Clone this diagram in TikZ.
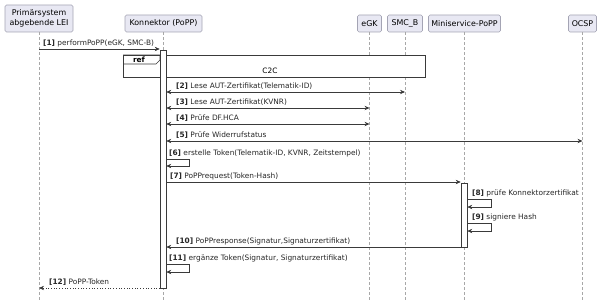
\documentclass[tikz,border=0pt]{standalone}
\usepackage{fontspec}
\setmainfont{DejaVu Sans}
\usetikzlibrary{arrows.meta,calc}

\definecolor{headfill}{HTML}{E8E8F3}
\definecolor{headline}{HTML}{A4A4B4}
\definecolor{msgline}{HTML}{3A3A3A}
\definecolor{lifecol}{HTML}{A8A8A8}

\begin{document}
\begin{tikzpicture}[
    x=1pt,y=-1pt,
    font=\fontsize{7.4}{8.5}\selectfont,
    >={Stealth[length=5pt,width=4.4pt]},
    head/.style={
        draw=headline,
        fill=headfill,
        line width=0.6pt,
        rounded corners=1.5pt,
        align=center,
        inner sep=1pt,
        minimum height=17pt,
        font=\fontsize{7.9}{9.6}\selectfont
    },
    life/.style={draw=lifecol, line width=0.5pt, dash pattern=on 2.5pt off 2.5pt},
    act/.style={
        draw=msgline,
        fill=white,
        line width=0.6pt,
        minimum width=6pt,
        inner sep=0pt,
        anchor=north
    },
    msg/.style={->, draw=msgline, line width=0.7pt},
    both/.style={<->, draw=msgline, line width=0.7pt},
    reply/.style={->, draw=msgline, line width=0.7pt, dotted},
    lbl/.style={anchor=base west, inner sep=0pt, text=black!85}
]
\useasboundingbox (0,0) rectangle (605,305);

% -----------------------------------------------------------------------------
% Participants and lifelines
% -----------------------------------------------------------------------------
\node[head, minimum width=68pt, minimum height=27pt] (lei) at (39,18.5)
    {Primärsystem\\abgebende LEI};
\node[head, minimum width=77pt] (kon) at (163.5,23.5) {Konnektor (PoPP)};
\node[head, minimum width=24pt] (egk) at (369.5,23.5) {eGK};
\node[head, minimum width=35pt] (smcb) at (405,23.5) {SMC\_B};
\node[head, minimum width=72pt] (mini) at (464.5,23.5) {Miniservice-PoPP};
\node[head, minimum width=28pt] (ocsp) at (582.5,23.5) {OCSP};

\coordinate (bot) at (0,300);
\foreach \p in {lei,kon,egk,smcb,mini,ocsp}
    \draw[life] (\p.south) -- (\p.south |- bot);

% message rows
\coordinate (r1) at (0,49);
\coordinate (r2) at (0,92);
\coordinate (r3) at (0,108);
\coordinate (r4) at (0,124);
\coordinate (r5) at (0,141);
\coordinate (r6) at (0,159);
\coordinate (r7) at (0,182);
\coordinate (r8) at (0,199);
\coordinate (r9) at (0,223);
\coordinate (r10) at (0,247);
\coordinate (r11) at (0,264);
\coordinate (r12) at (0,288);

% -----------------------------------------------------------------------------
% Reference frame C2C
% -----------------------------------------------------------------------------
\node[draw=msgline, fill=white, line width=0.7pt, minimum width=302pt,
    minimum height=22pt, anchor=north west, inner sep=0pt] (ref) at (123,55) {};
\draw[draw=msgline, line width=0.7pt] (ref.north west) -- ++(37,0) -- ++(0,5)
    -- ++(-4,4) -- ++(-33,0);
\node[font=\fontsize{7.4}{8.5}\selectfont\bfseries] (reftag) at (139,59.5) {ref};
\node (c2c) at (270,71) {C2C};

% -----------------------------------------------------------------------------
% Activations
% -----------------------------------------------------------------------------
\node[act, minimum height=238pt] (actK) at (163,50) {};
\node[act, minimum height=64pt] (actM) at (464,183) {};

% -----------------------------------------------------------------------------
% Messages
% -----------------------------------------------------------------------------
\draw[msg] (lei |- r1) -- (actK.west |- r1);
\node[lbl] at (43,45.5) {\textbf{[1]} performPoPP(eGK, SMC-B)};

\draw[both] (actK.east |- r2) -- (smcb |- r2);
\node[lbl] at (176,88.5) {\textbf{[2]} Lese AUT-Zertifikat(Telematik-ID)};

\draw[both] (actK.east |- r3) -- (egk |- r3);
\node[lbl] at (176,104.5) {\textbf{[3]} Lese AUT-Zertifikat(KVNR)};

\draw[both] (actK.east |- r4) -- (egk |- r4);
\node[lbl] at (176,120.5) {\textbf{[4]} Prüfe DF.HCA};

\draw[both] (actK.east |- r5) -- (ocsp |- r5);
\node[lbl] at (176,137.5) {\textbf{[5]} Prüfe Widerrufstatus};

\draw[msg] (actK.east |- r6) -- ++(23,0) -- ++(0,7) -- ++(-23,0);
\node[lbl] at (169,155.5)
    {\textbf{[6]} erstelle Token(Telematik-ID, KVNR, Zeitstempel)};

\draw[msg] (actK.east |- r7) -- (actM.west |- r7);
\node[lbl] at (170,178.5) {\textbf{[7]} PoPPrequest(Token-Hash)};

\draw[msg] (actM.east |- r8) -- ++(24,0) -- ++(0,8) -- ++(-24,0);
\node[lbl] at (472,195.5) {\textbf{[8]} prüfe Konnektorzertifikat};

\draw[msg] (actM.east |- r9) -- ++(24,0) -- ++(0,8) -- ++(-24,0);
\node[lbl] at (472,219.5) {\textbf{[9]} signiere Hash};

\draw[msg] (actM.west |- r10) -- (actK.east |- r10);
\node[lbl] at (176,243.5)
    {\textbf{[10]} PoPPresponse(Signatur,Signaturzertifikat)};

\draw[msg] (actK.east |- r11) -- ++(23,0) -- ++(0,8) -- ++(-23,0);
\node[lbl] at (169,260.5)
    {\textbf{[11]} ergänze Token(Signatur, Signaturzertifikat)};

\draw[reply] (actK.west |- r12) -- (lei |- r12);
\node[lbl] at (49,284.5) {\textbf{[12]} PoPP-Token};

\end{tikzpicture}
\end{document}
